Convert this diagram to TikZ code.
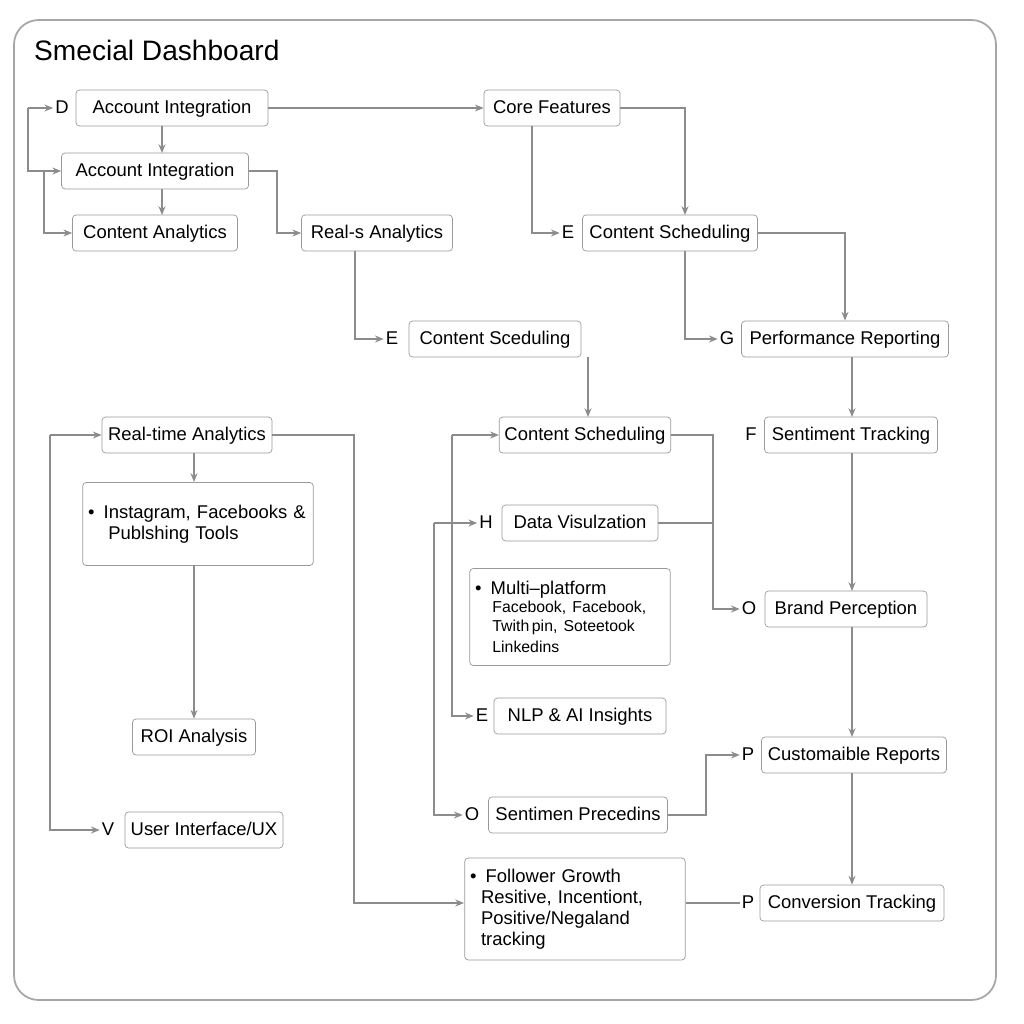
\documentclass[tikz,border=0pt]{standalone}
\usepackage{fontspec}
\setmainfont{Liberation Sans}
\usetikzlibrary{arrows.meta}
\tikzset{
  box/.style={draw=black!40, rounded corners=2pt, fill=white, inner sep=3pt, font=\fontsize{10.5}{12}\selectfont, minimum height=0.72cm},
  one/.style={box, text height=8pt, text depth=2pt},
  tag/.style={font=\fontsize{10.5}{12}\selectfont, inner sep=1pt, text height=8pt, text depth=2pt},
  link/.style={draw=black!45, line width=0.7pt},
  arr/.style={link, -{Stealth[length=5pt,width=4pt]}}
}
\begin{document}
\begin{tikzpicture}[x=0.02cm,y=-0.02cm]
\useasboundingbox (0,0) rectangle (1024,1024);
\draw[black!35, line width=1pt, rounded corners=14pt] (14,20) rectangle (996,1000);
\node[anchor=west, font=\fontsize{16}{18}\selectfont] (title) at (28,50) {Smecial Dashboard};

% top rows
\node[one, minimum width=3.84cm] (a1) at (172,108) {Account Integration};
\node[tag] (d1) at (62,108) {D};
\node[one, minimum width=2.72cm] (core) at (552,108) {Core Features};
\node[one, minimum width=3.74cm] (a2) at (155,171) {Account Integration};
\node[one, minimum width=3.3cm] (ca) at (155,233) {Content Analytics};
\node[one, minimum width=3.02cm] (ra) at (377,233) {Real-s Analytics};
\node[one, minimum width=3.5cm] (cs1) at (670,233) {Content Scheduling};
\node[tag] (e1) at (568,233) {E};
\node[one, minimum width=3.44cm] (cs2) at (495,339) {Content Sceduling};
\node[tag] (e2) at (392,339) {E};
\node[one, minimum width=4.14cm] (pr) at (845,339) {Performance Reporting};
\node[tag] (g1) at (727,339) {G};

% middle rows
\node[one, minimum width=3.4cm] (rt) at (187,435) {Real-time Analytics};
\node[one, minimum width=3.4cm] (cs3) at (585,435) {Content Scheduling};
\node[one, minimum width=3.46cm] (st) at (851,435) {Sentiment Tracking};
\node[tag] (f1) at (751,435) {F};
\node[box, text width=4.4cm, minimum height=1.66cm, align=left] (ig) at (198,524)
  {\textbullet\enspace Instagram, Facebooks \&\\\hspace*{1.1em}Publshing Tools};
\node[one, minimum width=3.12cm] (dv) at (580,523) {Data Visulzation};
\node[tag] (h1) at (486,523) {H};
\node[box, text width=3.8cm, minimum height=1.94cm, align=left] (mp) at (570,617)
  {\textbullet\enspace Multi--platform\\[-1pt]
   {\fontsize{9}{11}\selectfont\hspace*{1.1em}Facebook, Facebook,\\\hspace*{1.1em}Twith\,pin, Soteetook\\\hspace*{1.1em}Linkedins}};
\node[one, minimum width=3.24cm] (bp) at (846,609) {Brand Perception};
\node[tag] (o1) at (749,609) {O};

% bottom rows
\node[one, minimum width=2.46cm] (roi) at (194,737) {ROI Analysis};
\node[one, minimum width=3.44cm] (nlp) at (580,716) {NLP \& AI Insights};
\node[tag] (e3) at (482,716) {E};
\node[one, minimum width=3.7cm] (cr) at (854,755) {Customaible Reports};
\node[tag] (p1) at (748,755) {P};
\node[one, minimum width=3.58cm] (sp) at (578,815) {Sentimen Precedins};
\node[tag] (o2) at (472,815) {O};
\node[one, minimum width=3.16cm] (ui) at (204,830) {User Interface/UX};
\node[tag] (v1) at (108,830) {V};
\node[box, text width=4.2cm, minimum height=2.04cm, align=left] (fg) at (575,909)
  {\textbullet\enspace Follower Growth\\\hspace*{0.6em}Resitive, Incentiont,\\\hspace*{0.6em}Positive/Negaland\\\hspace*{0.6em}tracking};
\node[one, minimum width=3.68cm] (ct) at (852,903) {Conversion Tracking};
\node[tag] (p2) at (748,903) {P};

% junction points
\coordinate (j1) at (28,108);
\coordinate (j2) at (44,171);
\coordinate (j3) at (50,435);
\coordinate (j4) at (452,435);
\coordinate (j5) at (434,523);

% connectors
\draw[arr] (a1) -- (core);
\draw[arr] (j1) -- (d1);
\draw[arr] (j1) |- (a2);
\draw[arr] (j2) |- (ca);
\draw[arr] (162,126) -- (162,153);
\draw[arr] (162,189) -- (162,215);
\draw[arr] (a2.east) -- (277,171) |- (ra.west);
\draw[arr] (532,126) |- (e1);
\draw[arr] (core.east) -| (685,215);
\draw[arr] (355,251) |- (e2);
\draw[arr] (cs1.east) -| (pr.north);
\draw[arr] (685,251) |- (g1);
\draw[arr] (588,357) -- (588,417);
\draw[arr] (852,357) -- (852,417);
\draw[arr] (852,453) -- (852,591);
\draw[arr] (852,627) -- (852,737);
\draw[arr] (852,773) -- (ct.north);
\draw[arr] (j3) -- (rt);
\draw[arr] (j3) |- (v1);
\draw[arr] (194,453) -- (194,482);
\draw[arr] (194,565) -- (roi);
\draw[arr] (rt.east) -| (354,903) -- (464,903);
\draw[arr] (cs3.east) -| (713,609) -- (o1);
\draw[link] (dv.east) -- (713,523);
\draw[arr] (j4) -- (cs3);
\draw[arr] (j4) |- (e3);
\draw[arr] (j5) -- (h1);
\draw[arr] (j5) |- (o2);
\draw[arr] (sp.east) -| (706,755) -- (p1);
\draw[link] (686,903) -- (p2);
\end{tikzpicture}
\end{document}
